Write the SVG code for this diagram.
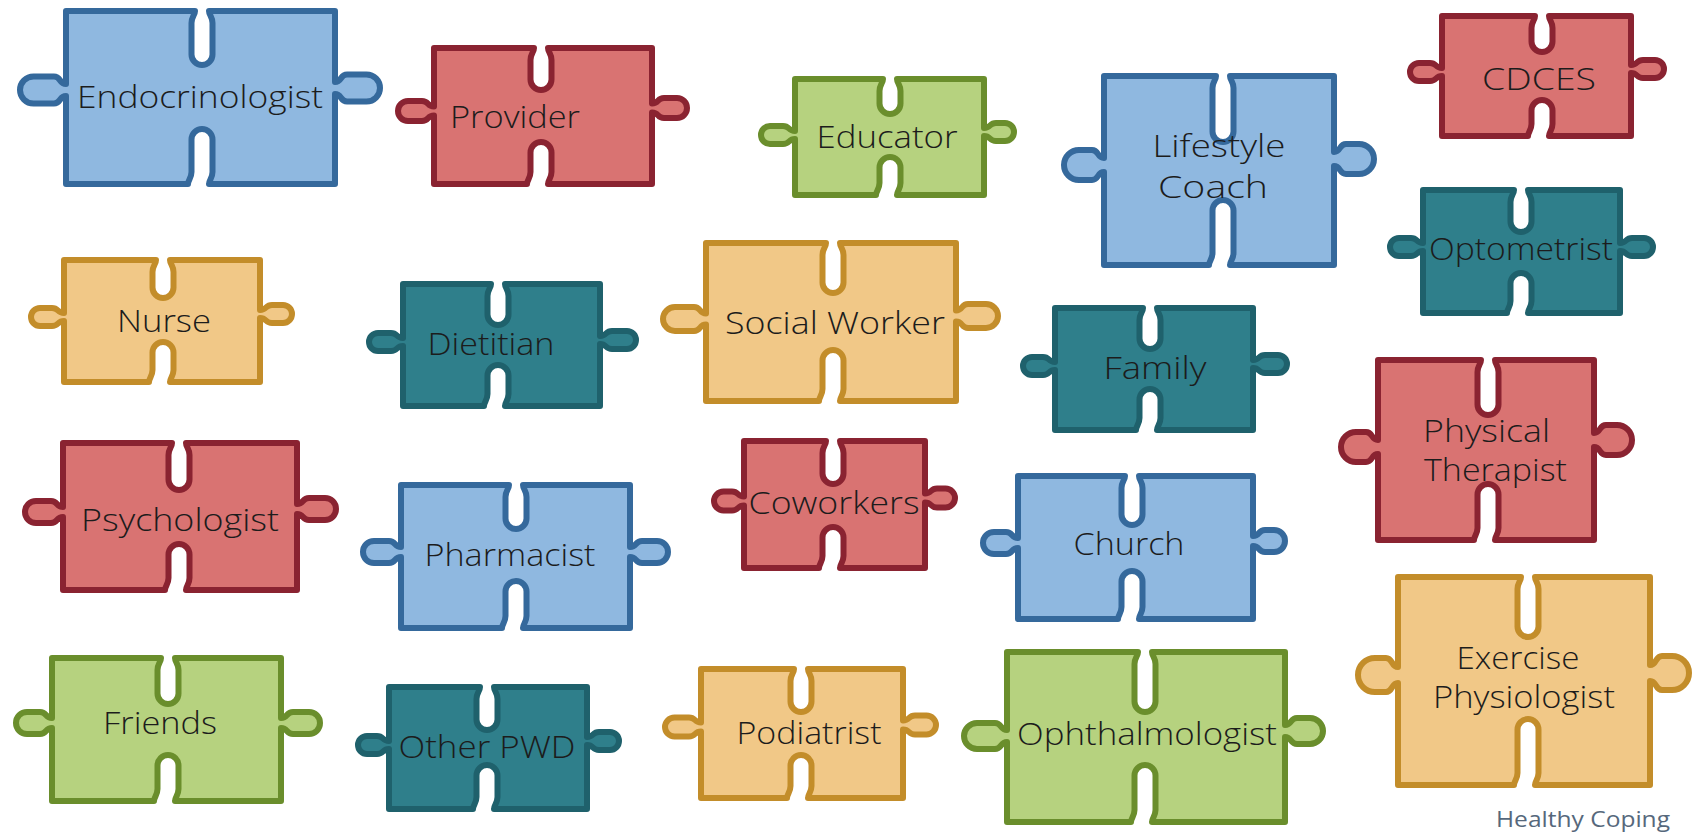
<svg xmlns="http://www.w3.org/2000/svg" width="1697" height="837" viewBox="0 0 1697 837">
<style>
.p{stroke-width:6;stroke-linejoin:round}
.blue{fill:#8fb8e0;stroke:#35699c}
.red{fill:#d97372;stroke:#8a2331}
.green{fill:#b6d27f;stroke:#6a8e2c}
.yellow{fill:#f1c887;stroke:#c38d2a}
.teal{fill:#2f7f8b;stroke:#1f616c}
text{font-family:"Open Sans","Liberation Sans",sans-serif;font-size:32px;font-weight:300;fill:#1c1c1c;text-anchor:middle}
.l{text-anchor:start}
.brand{font-size:21px;font-weight:400;fill:#56687c;text-anchor:end}
</style>
<rect width="1697" height="837" fill="#ffffff"/>

<g id="endocrinologist">
<path class="p blue" d="M66 11 H195 c0 4 -3.5 6 -3.5 12 v31.5 a10.5 10.5 0 0 0 21 0 v-31.5 c0 -6 -3.5 -8 -3.5 -12 H335 V82 c7 0 5 -7.5 12 -7.5 h19.5 a13.5 13.5 0 0 1 0 27 h-19.5 c-7 0 -5 -7.5 -12 -7.5 V184 H209 c0 -4 3.5 -6 3.5 -12 v-32.5 a10.5 10.5 0 0 0 -21 0 v32.5 c0 6 -3.5 8 -3.5 12 H66 V96 c-7 0 -5 7.5 -12 7.5 h-20.5 a13.5 13.5 0 0 1 0 -27 h20.5 c7 0 5 7.5 12 7.5 Z"/>
<text x="200" y="108" textLength="246" lengthAdjust="spacingAndGlyphs">Endocrinologist</text>
</g>

<g id="provider">
<path class="p red" d="M434 48 H534 c0 4 -3.5 6 -3.5 12 v19.5 a10.5 10.5 0 0 0 21 0 v-19.5 c0 -6 -3.5 -8 -3.5 -12 H652 V103.5 c7 0 5 -5.5 12 -5.5 h13 a10 10 0 0 1 0 20 h-13 c-7 0 -5 -5.5 -12 -5.5 V184 H548 c0 -4 3.5 -6 3.5 -12 v-19.5 a10.5 10.5 0 0 0 -21 0 v19.5 c0 6 -3.5 8 -3.5 12 H434 V115.5 c-7 0 -5 5.5 -12 5.5 h-14 a10 10 0 0 1 0 -20 h14 c7 0 5 5.5 12 5.5 Z"/>
<text x="515" y="128" textLength="130" lengthAdjust="spacingAndGlyphs">Provider</text>
</g>

<g id="educator">
<path class="p green" d="M795 79 H883 c0 4 -3.5 6 -3.5 12 v12.5 a10.5 10.5 0 0 0 21 0 v-12.5 c0 -6 -3.5 -8 -3.5 -12 H984 V128 c7 0 5 -5 12 -5 h9 a9 9 0 0 1 0 18 h-9 c-7 0 -5 -5 -12 -5 V195 H897 c0 -4 3.5 -6 3.5 -12 v-15.5 a10.5 10.5 0 0 0 -21 0 v15.5 c0 6 -3.5 8 -3.5 12 H795 V139 c-7 0 -5 5 -12 5 h-13 a9 9 0 0 1 0 -18 h13 c7 0 5 5 12 5 Z"/>
<text x="887" y="148" textLength="141" lengthAdjust="spacingAndGlyphs">Educator</text>
</g>

<g id="lifestyle-coach">
<path class="p blue" d="M1104 76 H1216 c0 4 -3.5 6 -3.5 12 v43.5 a10.5 10.5 0 0 0 21 0 v-43.5 c0 -6 -3.5 -8 -3.5 -12 H1334 V152 c7 0 5 -8 12 -8 h13 a15 15 0 0 1 0 30 h-13 c-7 0 -5 -8 -12 -8 V265 H1230 c0 -4 3.5 -6 3.5 -12 v-42.5 a10.5 10.5 0 0 0 -21 0 v42.5 c0 6 -3.5 8 -3.5 12 H1104 V172 c-7 0 -5 8 -12 8 h-13 a15 15 0 0 1 0 -30 h13 c7 0 5 8 12 8 Z"/>
<text x="1219" y="157" textLength="133" lengthAdjust="spacingAndGlyphs">Lifestyle</text>
<text x="1213" y="198" textLength="110" lengthAdjust="spacingAndGlyphs">Coach</text>
</g>

<g id="cdces">
<path class="p red" d="M1442 16 H1535 c0 4 -3.5 6 -3.5 12 v13.5 a10.5 10.5 0 0 0 21 0 v-13.5 c0 -6 -3.5 -8 -3.5 -12 H1631 V65 c7 0 5 -5 12 -5 h12 a9 9 0 0 1 0 18 h-12 c-7 0 -5 -5 -12 -5 V136 H1549 c0 -4 3.5 -6 3.5 -12 v-13.5 a10.5 10.5 0 0 0 -21 0 v13.5 c0 6 -3.5 8 -3.5 12 H1442 V76 c-7 0 -5 5 -12 5 h-11 a9 9 0 0 1 0 -18 h11 c7 0 5 5 12 5 Z"/>
<text x="1539" y="90" textLength="114" lengthAdjust="spacingAndGlyphs">CDCES</text>
</g>

<g id="optometrist">
<path class="p teal" d="M1423 190 H1514 c0 4 -3.5 6 -3.5 12 v19.5 a10.5 10.5 0 0 0 21 0 v-19.5 c0 -6 -3.5 -8 -3.5 -12 H1620 V243 c7 0 5 -5 12 -5 h12 a9 9 0 0 1 0 18 h-12 c-7 0 -5 -5 -12 -5 V313 H1528 c0 -4 3.5 -6 3.5 -12 v-17.5 a10.5 10.5 0 0 0 -21 0 v17.5 c0 6 -3.5 8 -3.5 12 H1423 V251 c-7 0 -5 5 -12 5 h-12 a9 9 0 0 1 0 -18 h12 c7 0 5 5 12 5 Z"/>
<text x="1521" y="260" textLength="184" lengthAdjust="spacingAndGlyphs">Optometrist</text>
</g>

<g id="nurse">
<path class="p yellow" d="M64 260 H156 c0 4 -3.5 6 -3.5 12 v15.5 a10.5 10.5 0 0 0 21 0 v-15.5 c0 -6 -3.5 -8 -3.5 -12 H260 V310 c7 0 5 -5 12 -5 h11 a9 9 0 0 1 0 18 h-11 c-7 0 -5 -5 -12 -5 V382 H170 c0 -4 3.5 -6 3.5 -12 v-17.5 a10.5 10.5 0 0 0 -21 0 v17.5 c0 6 -3.5 8 -3.5 12 H64 V321 c-7 0 -5 5 -12 5 h-12 a9 9 0 0 1 0 -18 h12 c7 0 5 5 12 5 Z"/>
<text x="164" y="332" textLength="94" lengthAdjust="spacingAndGlyphs">Nurse</text>
</g>

<g id="dietitian">
<path class="p teal" d="M403 284 H491 c0 4 -3.5 6 -3.5 12 v18.5 a10.5 10.5 0 0 0 21 0 v-18.5 c0 -6 -3.5 -8 -3.5 -12 H600 V336 c7 0 5 -5 12 -5 h15 a9 9 0 0 1 0 18 h-15 c-7 0 -5 -5 -12 -5 V406 H505 c0 -4 3.5 -6 3.5 -12 v-18.5 a10.5 10.5 0 0 0 -21 0 v18.5 c0 6 -3.5 8 -3.5 12 H403 V346 c-7 0 -5 5 -12 5 h-13 a9 9 0 0 1 0 -18 h13 c7 0 5 5 12 5 Z"/>
<text x="491" y="355" textLength="127" lengthAdjust="spacingAndGlyphs">Dietitian</text>
</g>

<g id="social-worker">
<path class="p yellow" d="M706 243 H826 c0 4 -3.5 6 -3.5 12 v27.5 a10.5 10.5 0 0 0 21 0 v-27.5 c0 -6 -3.5 -8 -3.5 -12 H956 V310.5 c7 0 5 -6.5 12 -6.5 h18 a12 12 0 0 1 0 24 h-18 c-7 0 -5 -6.5 -12 -6.5 V401 H840 c0 -4 3.5 -6 3.5 -12 v-28.5 a10.5 10.5 0 0 0 -21 0 v28.5 c0 6 -3.5 8 -3.5 12 H706 V324.5 c-7 0 -5 6.5 -12 6.5 h-19 a12 12 0 0 1 0 -24 h19 c7 0 5 6.5 12 6.5 Z"/>
<text x="835" y="334" textLength="220" lengthAdjust="spacingAndGlyphs">Social Worker</text>
</g>

<g id="family">
<path class="p teal" d="M1055 308 H1143 c0 4 -3.5 6 -3.5 12 v18.5 a10.5 10.5 0 0 0 21 0 v-18.5 c0 -6 -3.5 -8 -3.5 -12 H1253 V360 c7 0 5 -5 12 -5 h13 a9 9 0 0 1 0 18 h-13 c-7 0 -5 -5 -12 -5 V430 H1157 c0 -4 3.5 -6 3.5 -12 v-18.5 a10.5 10.5 0 0 0 -21 0 v18.5 c0 6 -3.5 8 -3.5 12 H1055 V370 c-7 0 -5 5 -12 5 h-11 a9 9 0 0 1 0 -18 h11 c7 0 5 5 12 5 Z"/>
<text x="1155" y="379" textLength="103" lengthAdjust="spacingAndGlyphs">Family</text>
</g>

<g id="physical-therapist">
<path class="p red" d="M1378 360 H1481 c0 4 -3.5 6 -3.5 12 v32.5 a10.5 10.5 0 0 0 21 0 v-32.5 c0 -6 -3.5 -8 -3.5 -12 H1594 V433 c7 0 5 -8 12 -8 h11 a15 15 0 0 1 0 30 h-11 c-7 0 -5 -8 -12 -8 V540 H1495 c0 -4 3.5 -6 3.5 -12 v-33.5 a10.5 10.5 0 0 0 -21 0 v33.5 c0 6 -3.5 8 -3.5 12 H1378 V454 c-7 0 -5 8 -12 8 h-10 a15 15 0 0 1 0 -30 h10 c7 0 5 8 12 8 Z"/>
<text class="l" x="1423" y="442" textLength="127" lengthAdjust="spacingAndGlyphs">Physical</text>
<text class="l" x="1424" y="481" textLength="143" lengthAdjust="spacingAndGlyphs">Therapist</text>
</g>

<g id="psychologist">
<path class="p red" d="M63 443 H172 c0 4 -3.5 6 -3.5 12 v24.5 a10.5 10.5 0 0 0 21 0 v-24.5 c0 -6 -3.5 -8 -3.5 -12 H297 V504 c7 0 5 -6 12 -6 h16 a11 11 0 0 1 0 22 h-16 c-7 0 -5 -6 -12 -6 V590 H186 c0 -4 3.5 -6 3.5 -12 v-23.5 a10.5 10.5 0 0 0 -21 0 v23.5 c0 6 -3.5 8 -3.5 12 H63 V517 c-7 0 -5 6 -12 6 h-15 a11 11 0 0 1 0 -22 h15 c7 0 5 6 12 6 Z"/>
<text x="180" y="531" textLength="198" lengthAdjust="spacingAndGlyphs">Psychologist</text>
</g>

<g id="pharmacist">
<path class="p blue" d="M401 485 H509 c0 4 -3.5 6 -3.5 12 v21.5 a10.5 10.5 0 0 0 21 0 v-21.5 c0 -6 -3.5 -8 -3.5 -12 H630 V547 c7 0 5 -6 12 -6 h15 a11 11 0 0 1 0 22 h-15 c-7 0 -5 -6 -12 -6 V628 H523 c0 -4 3.5 -6 3.5 -12 v-24.5 a10.5 10.5 0 0 0 -21 0 v24.5 c0 6 -3.5 8 -3.5 12 H401 V557 c-7 0 -5 6 -12 6 h-15 a11 11 0 0 1 0 -22 h15 c7 0 5 6 12 6 Z"/>
<text x="510" y="566" textLength="171" lengthAdjust="spacingAndGlyphs">Pharmacist</text>
</g>

<g id="coworkers">
<path class="p red" d="M744 441 H826 c0 4 -3.5 6 -3.5 12 v20.5 a10.5 10.5 0 0 0 21 0 v-20.5 c0 -6 -3.5 -8 -3.5 -12 H925 V493.5 c7 0 5 -5 12 -5 h8.5 a9.5 9.5 0 0 1 0 19 h-8.5 c-7 0 -5 -5 -12 -5 V568 H840 c0 -4 3.5 -6 3.5 -12 v-18.5 a10.5 10.5 0 0 0 -21 0 v18.5 c0 6 -3.5 8 -3.5 12 H744 V505.5 c-7 0 -5 5 -12 5 h-8.5 a9.5 9.5 0 0 1 0 -19 h8.5 c7 0 5 5 12 5 Z"/>
<text x="834" y="514" textLength="171" lengthAdjust="spacingAndGlyphs">Coworkers</text>
</g>

<g id="church">
<path class="p blue" d="M1018 476 H1125 c0 4 -3.5 6 -3.5 12 v26.5 a10.5 10.5 0 0 0 21 0 v-26.5 c0 -6 -3.5 -8 -3.5 -12 H1253 V536 c7 0 5 -6 12 -6 h9 a11 11 0 0 1 0 22 h-9 c-7 0 -5 -6 -12 -6 V619 H1139 c0 -4 3.5 -6 3.5 -12 v-25.5 a10.5 10.5 0 0 0 -21 0 v25.5 c0 6 -3.5 8 -3.5 12 H1018 V548 c-7 0 -5 6 -12 6 h-12 a11 11 0 0 1 0 -22 h12 c7 0 5 6 12 6 Z"/>
<text x="1129" y="555" textLength="111" lengthAdjust="spacingAndGlyphs">Church</text>
</g>

<g id="exercise-physiologist">
<path class="p yellow" d="M1398 577 H1521 c0 4 -3.5 6 -3.5 12 v37.5 a10.5 10.5 0 0 0 21 0 v-37.5 c0 -6 -3.5 -8 -3.5 -12 H1650 V665 c7 0 5 -9 12 -9 h10 a17 17 0 0 1 0 34 h-10 c-7 0 -5 -9 -12 -9 V785 H1535 c0 -4 3.5 -6 3.5 -12 v-43.5 a10.5 10.5 0 0 0 -21 0 v43.5 c0 6 -3.5 8 -3.5 12 H1398 V683 c-7 0 -5 9 -12 9 h-11 a17 17 0 0 1 0 -34 h11 c7 0 5 9 12 9 Z"/>
<text x="1518" y="669" textLength="123" lengthAdjust="spacingAndGlyphs">Exercise</text>
<text x="1524" y="708" textLength="182" lengthAdjust="spacingAndGlyphs">Physiologist</text>
</g>

<g id="friends">
<path class="p green" d="M52 658 H161 c0 4 -3.5 6 -3.5 12 v23.5 a10.5 10.5 0 0 0 21 0 v-23.5 c0 -6 -3.5 -8 -3.5 -12 H281 V718 c7 0 5 -6 12 -6 h16 a11 11 0 0 1 0 22 h-16 c-7 0 -5 -6 -12 -6 V801 H175 c0 -4 3.5 -6 3.5 -12 v-23.5 a10.5 10.5 0 0 0 -21 0 v23.5 c0 6 -3.5 8 -3.5 12 H52 V728 c-7 0 -5 6 -12 6 h-13 a11 11 0 0 1 0 -22 h13 c7 0 5 6 12 6 Z"/>
<text x="160" y="734" textLength="114" lengthAdjust="spacingAndGlyphs">Friends</text>
</g>

<g id="other-pwd">
<path class="p teal" d="M389 687 H480 c0 4 -3.5 6 -3.5 12 v20.5 a10.5 10.5 0 0 0 21 0 v-20.5 c0 -6 -3.5 -8 -3.5 -12 H587 V737 c7 0 5 -5 12 -5 h11 a9 9 0 0 1 0 18 h-11 c-7 0 -5 -5 -12 -5 V809 H494 c0 -4 3.5 -6 3.5 -12 v-21.5 a10.5 10.5 0 0 0 -21 0 v21.5 c0 6 -3.5 8 -3.5 12 H389 V749 c-7 0 -5 5 -12 5 h-10 a9 9 0 0 1 0 -18 h10 c7 0 5 5 12 5 Z"/>
<text x="487" y="758" textLength="177" lengthAdjust="spacingAndGlyphs">Other PWD</text>
</g>

<g id="podiatrist">
<path class="p yellow" d="M701 669 H794 c0 4 -3.5 6 -3.5 12 v20.5 a10.5 10.5 0 0 0 21 0 v-20.5 c0 -6 -3.5 -8 -3.5 -12 H903 V720.5 c7 0 5 -5 12 -5 h11.5 a9.5 9.5 0 0 1 0 19 h-11.5 c-7 0 -5 -5 -12 -5 V798 H808 c0 -4 3.5 -6 3.5 -12 v-20.5 a10.5 10.5 0 0 0 -21 0 v20.5 c0 6 -3.5 8 -3.5 12 H701 V731.5 c-7 0 -5 5 -12 5 h-14.5 a9.5 9.5 0 0 1 0 -19 h14.5 c7 0 5 5 12 5 Z"/>
<text x="809" y="744" textLength="145" lengthAdjust="spacingAndGlyphs">Podiatrist</text>
</g>

<g id="ophthalmologist">
<path class="p green" d="M1007 652 H1138 c0 4 -3.5 6 -3.5 12 v37.5 a10.5 10.5 0 0 0 21 0 v-37.5 c0 -6 -3.5 -8 -3.5 -12 H1285 V725 c7 0 5 -7 12 -7 h13 a13 13 0 0 1 0 26 h-13 c-7 0 -5 -7 -12 -7 V822 H1152 c0 -4 3.5 -6 3.5 -12 v-34.5 a10.5 10.5 0 0 0 -21 0 v34.5 c0 6 -3.5 8 -3.5 12 H1007 V742 c-7 0 -5 7 -12 7 h-18 a13 13 0 0 1 0 -26 h18 c7 0 5 7 12 7 Z"/>
<text x="1147" y="745" textLength="260" lengthAdjust="spacingAndGlyphs">Ophthalmologist</text>
</g>

<text class="brand" x="1670" y="827" textLength="174" lengthAdjust="spacingAndGlyphs">Healthy Coping</text>
</svg>
